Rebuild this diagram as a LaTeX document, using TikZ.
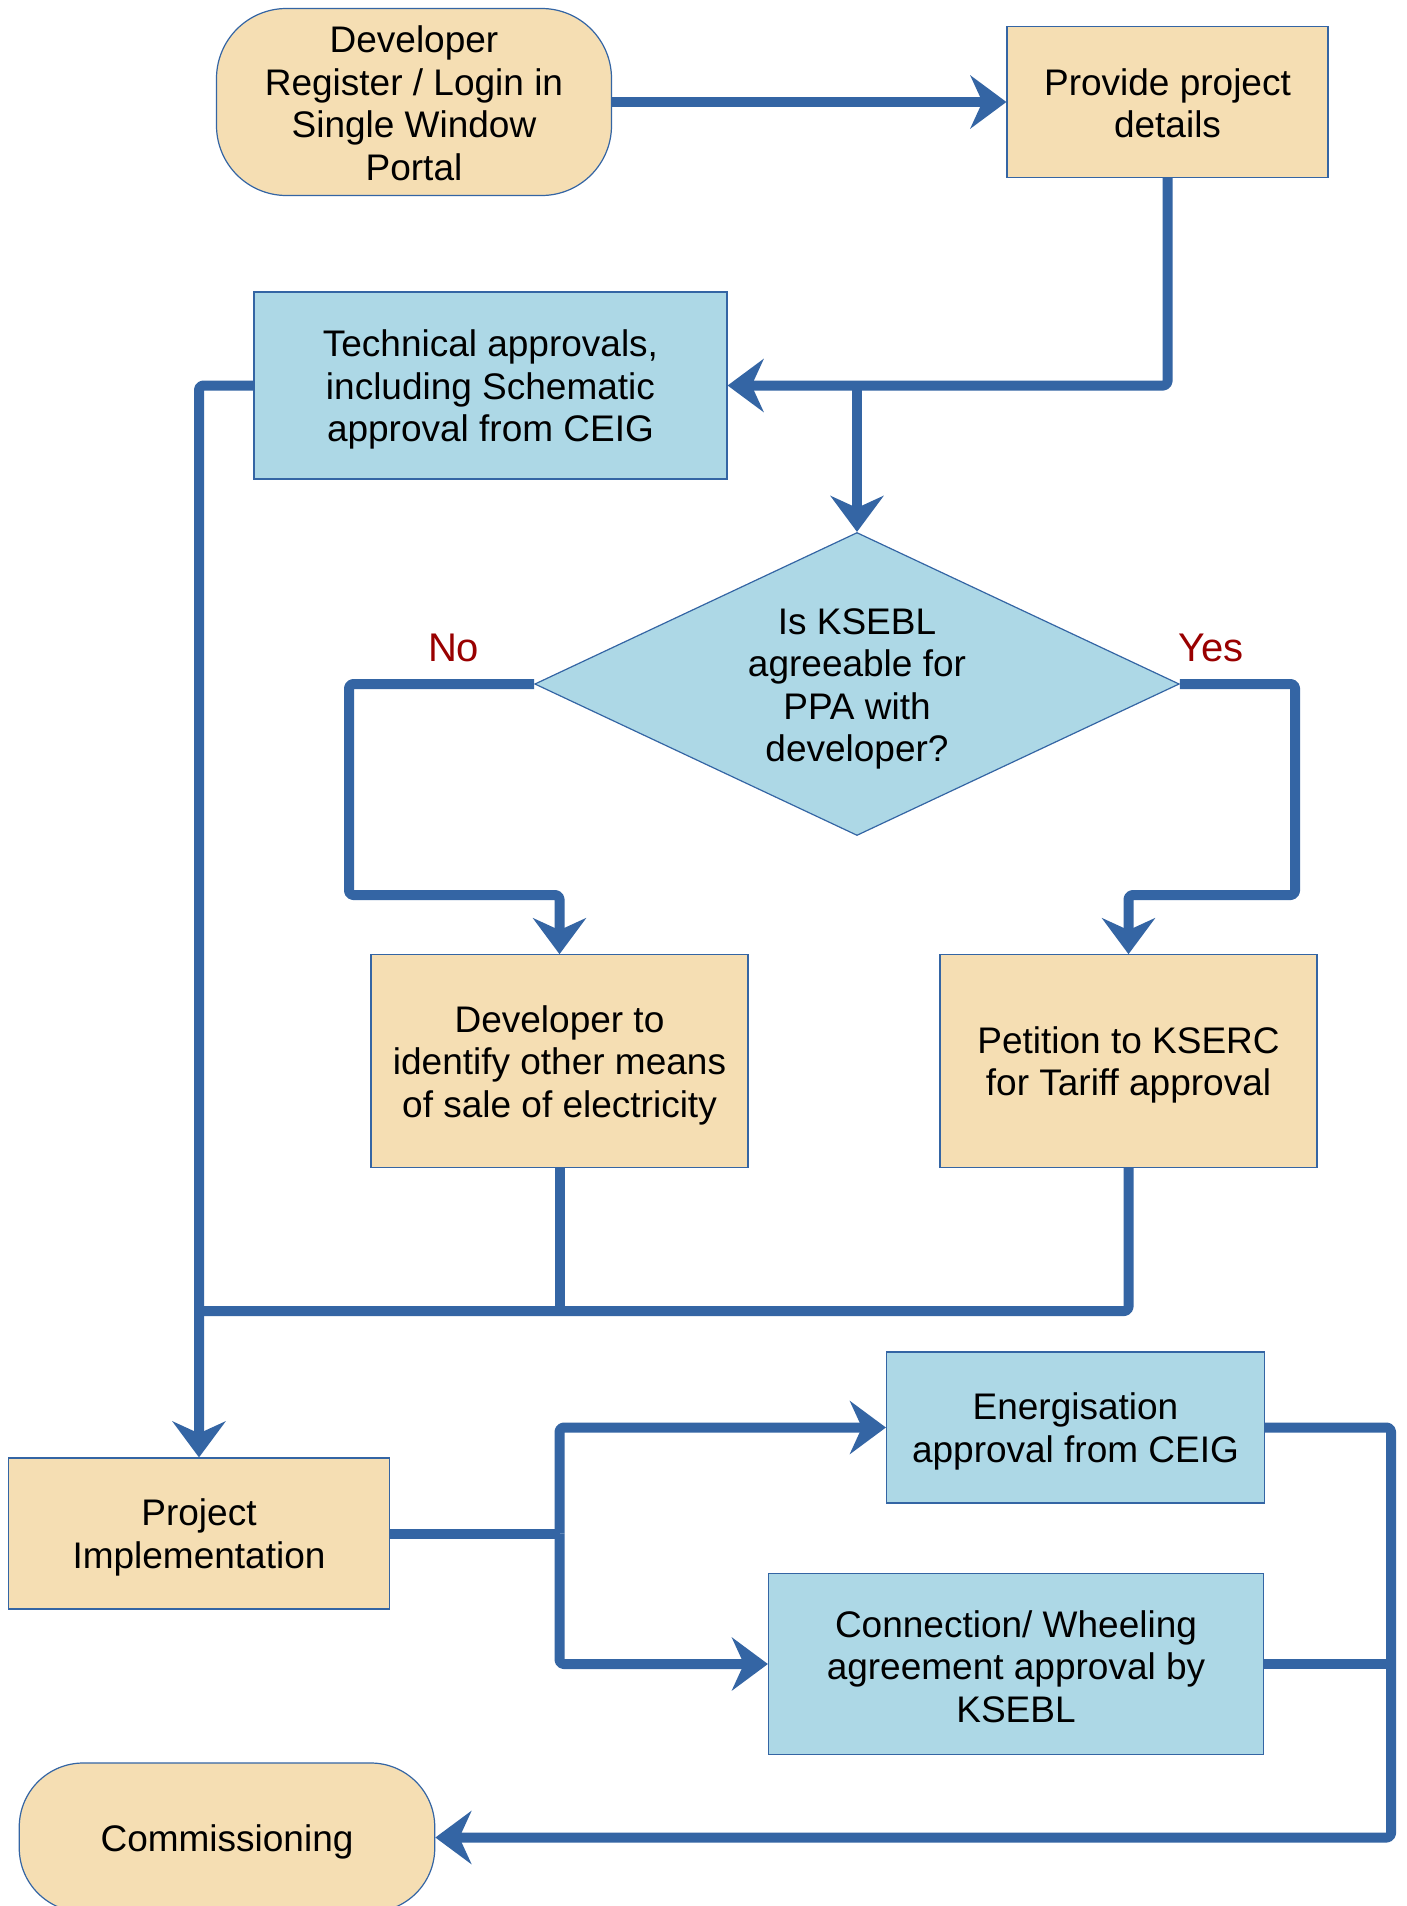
\documentclass[tikz,border=0pt]{standalone}
\usepackage{fontspec}
\setmainfont{Liberation Sans}
\usetikzlibrary{shapes.geometric,arrows.meta}
\definecolor{beige}{HTML}{F5DEB3}
\definecolor{lblue}{HTML}{ADD8E6}
\definecolor{lineblue}{HTML}{3465A4}
\definecolor{lblred}{HTML}{990000}
\begin{document}
\begin{tikzpicture}[x=0.5pt,y=-0.5pt,
  box/.style={draw=lineblue, line width=0.6pt, inner sep=0pt},
  txt/.style={align=center, inner sep=0pt, font=\fontsize{18.5}{21.25}\selectfont, text=black, yshift=-2pt},
  tanbox/.style={box, fill=beige},
  bluebox/.style={box, fill=lblue},
  link/.style={draw=lineblue, line width=5pt, rounded corners=2pt, line join=round},
  arr/.style={link, shorten >=-4.5pt, -{Stealth[length=18pt,width=26.5pt,inset=6pt,sep=4.5pt]}},
  lbl/.style={text=lblred, font=\fontsize{20}{24}\selectfont}
]
\useasboundingbox[fill=white] (0,0) rectangle (1407,1906);

\node[tanbox, rounded corners=35pt, minimum width=197.5pt, minimum height=93.5pt,
  label={[txt,yshift=1.4pt]center:{Developer\\Register / Login in\\Single Window\\Portal}}] (dev) at (414,102) {};
\node[tanbox, minimum width=160.5pt, minimum height=75.5pt,
  label={[txt,yshift=1.4pt]center:{Provide project\\details}}] (prov) at (1167.5,102) {};
\node[bluebox, minimum width=236.5pt, minimum height=93.5pt,
  label={[txt]center:{Technical approvals,\\including Schematic\\approval from CEIG}}] (tech) at (490.5,385.5) {};
\node[bluebox, diamond, aspect=2.127, minimum width=322.25pt, minimum height=151.5pt,
  label={[txt,yshift=-0.5pt]center:{Is KSEBL\\agreeable for\\PPA with\\developer?}}] (dia) at (857,684) {};
\node[tanbox, minimum width=188.5pt, minimum height=106.25pt,
  label={[txt]center:{Developer to\\identify other means\\of sale of electricity}}] (dev2) at (559.5,1061) {};
\node[tanbox, minimum width=188.5pt, minimum height=106.25pt,
  label={[txt]center:{Petition to KSERC\\for Tariff approval}}] (pet) at (1128.5,1061) {};
\node[tanbox, minimum width=190.75pt, minimum height=75.5pt,
  label={[txt]center:{Project\\Implementation}}] (pi) at (199,1533.5) {};
\node[bluebox, minimum width=189pt, minimum height=75.5pt,
  label={[txt]center:{Energisation\\approval from CEIG}}] (ener) at (1075.5,1427.5) {};
\node[bluebox, minimum width=247.5pt, minimum height=90.5pt,
  label={[txt,yshift=0.8pt]center:{Connection/ Wheeling\\agreement approval by\\KSEBL}}] (cwa) at (1016,1664) {};
\node[tanbox, rounded corners=32pt, minimum width=207.75pt, minimum height=74.5pt,
  label={[txt]center:{Commissioning}}] (comm) at (227,1837.5) {};

\node[lbl] (no) at (453.6,648) {No};
\node[lbl] (yes) at (1211,648) {Yes};

\coordinate (j1) at (857,385.5);
\coordinate (nobend) at (349,895);
\coordinate (yesbend) at (1295,895);
\coordinate (jl) at (198,1311);
\coordinate (j3) at (559.5,1533.5);
\coordinate (jr) at (1391,1837.5);

\draw[arr] (dev.east) -- (prov.west);
\draw[arr] (prov.south) |- (tech.east);
\draw[arr] (j1) -- (dia.north);
\draw[arr] (dia.west) -| (nobend) -| (dev2.north);
\draw[arr] (dia.east) -| (yesbend) -| (pet.north);
\draw[arr] (tech.west) -| (pi.north);
\draw[link] (pet.south) |- (jl);
\draw[link] (dev2.south) -- (dev2.south |- jl);
\draw[link] (pi.east) -- (j3);
\draw[arr] (j3) |- (ener.west);
\draw[arr] (j3) |- (cwa.west);
\draw[arr] (ener.east) -| (jr) -- (comm.east);
\draw[link] (cwa.east) -- (cwa.east -| jr);
\end{tikzpicture}
\end{document}
